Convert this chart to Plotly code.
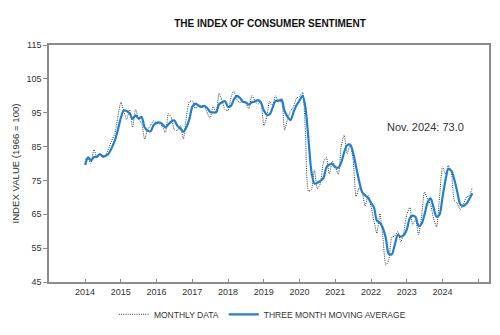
import pandas as pd
import plotly.graph_objects as go

months = pd.date_range("2014-01-01", "2024-11-01", freq="MS")

monthly = [
    81.2, 81.6, 80.0, 84.1, 81.9, 82.5, 81.8, 82.5, 84.6, 86.9, 88.8, 93.6,
    98.1, 95.4, 93.0, 95.9, 90.7, 96.1, 93.1, 91.9, 87.2, 90.0, 91.3, 92.6,
    92.0, 91.7, 91.0, 89.0, 94.7, 93.5, 90.0, 89.8, 91.2, 87.2, 93.8, 98.2,
    98.5, 96.3, 96.9, 97.0, 97.1, 95.0, 93.4, 96.8, 95.1, 100.7, 98.5, 95.9,
    95.7, 99.7, 101.4, 98.8, 98.0, 98.2, 97.9, 96.2, 100.1, 98.6, 97.5, 98.3,
    91.2, 93.8, 98.4, 97.2, 100.0, 98.2, 98.4, 89.8, 93.2, 95.5, 96.8, 99.3,
    99.8, 101.0, 89.1, 71.8, 72.3, 78.1, 72.5, 74.1, 80.4, 81.8, 76.9, 80.7,
    79.0, 76.8, 84.9, 88.3, 82.9, 85.5, 81.2, 70.3, 72.8, 71.7, 67.4, 70.6,
    67.2, 62.8, 59.4, 65.2, 58.4, 50.0, 51.5, 58.2, 58.6, 59.9, 56.8, 59.7,
    64.9, 67.0, 62.0, 63.5, 59.0, 64.2, 71.6, 69.5, 67.9, 63.8, 61.3, 69.7,
    79.0, 76.9, 79.4, 77.2, 69.1, 68.2, 66.4, 67.9, 70.1, 70.5, 73.0,
]

moving_avg = [
    79.6, 81.8, 80.9, 81.9, 82.0, 82.8, 82.1, 82.3, 83.0, 84.7, 86.8, 89.8,
    93.5, 95.7, 95.5, 94.8, 93.2, 94.2, 93.3, 93.7, 90.7, 89.7, 89.5, 91.3,
    92.0, 92.1, 91.6, 90.6, 91.6, 92.4, 92.7, 91.1, 90.3, 89.4, 90.7, 93.1,
    96.8, 97.7, 97.2, 96.7, 97.0, 96.4, 95.2, 95.1, 95.1, 97.5, 98.1, 98.4,
    96.7, 97.1, 98.9, 100.0, 99.4, 98.3, 98.0, 97.4, 98.1, 98.3, 98.7, 98.1,
    95.7, 94.4, 94.5, 96.5, 98.5, 98.5, 98.9, 95.5, 93.8, 92.8, 95.2, 97.2,
    98.6, 100.0, 96.6, 87.3, 77.7, 74.1, 74.3, 74.9, 75.7, 78.8, 79.7, 79.8,
    78.9, 78.8, 80.2, 83.3, 85.4, 85.6, 83.2, 79.0, 74.8, 71.6, 70.6, 69.9,
    68.4, 66.9, 63.1, 62.5, 61.0, 57.9, 53.3, 53.2, 56.1, 58.9, 58.4, 58.8,
    60.5, 63.9, 64.6, 64.2, 61.5, 62.2, 64.9, 68.4, 69.7, 67.1, 64.3, 64.9,
    70.0, 75.2, 78.4, 77.8, 75.2, 71.5, 67.9, 67.5, 68.1, 69.5, 71.2,
]

year_ticks = [f"{y}-01-01" for y in range(2014, 2026)]
year_labels = [str(y) for y in range(2014, 2025)] + [""]
y_ticks = [45, 55, 65, 75, 85, 95, 105, 115]

title_text = "THE INDEX OF CONSUMER SENTIMENT"
y_title = "INDEX VALUE (1966 = 100)"
note_text = "Nov. 2024: 73.0"

FONT = "Liberation Sans, Arial, sans-serif"

fig = go.Figure()
fig.add_trace(go.Scatter(
    x=months, y=monthly, mode="lines", name="MONTHLY DATA",
    line=dict(color="#3a3a3a", width=1, dash="1px,1.2px", shape="spline", smoothing=0.6),
))
fig.add_trace(go.Scatter(
    x=months, y=moving_avg, mode="lines", name="THREE MONTH MOVING AVERAGE",
    line=dict(color="#1f7fd2", width=2.2, shape="spline", smoothing=0.8),
))

fig.update_layout(
    width=500, height=335,
    margin=dict(l=49, r=11, t=45, b=53, autoexpand=False),
    paper_bgcolor="white", plot_bgcolor="white",
    font=dict(family=FONT, size=9, color="#333333"),
    title=dict(text="<b>" + title_text + "</b>", x=0.54, xanchor="center",
               y=1 - 23 / 335, yanchor="middle",
               font=dict(family=FONT, size=10, color="#111111")),
    showlegend=True,
    legend=dict(orientation="h", x=0.485, xanchor="center", y=-0.075, yanchor="top",
                font=dict(family=FONT, size=8.5, color="#333333"),
                itemwidth=30, tracegroupgap=0, bgcolor="rgba(0,0,0,0)"),
    annotations=[dict(
        text=note_text, x="2024-08-25", y=90.9, xref="x", yref="y",
        xanchor="right", yanchor="middle", showarrow=False,
        font=dict(family=FONT, size=11, color="#333333"),
    )],
)

fig.update_xaxes(
    type="date", range=["2012-12-28", "2025-04-20"],
    tickvals=year_ticks, ticktext=year_labels,
    showline=True, linecolor="#8c8c8c", linewidth=1.5, mirror=True,
    ticks="inside", ticklen=3, tickcolor="#8c8c8c",
    showgrid=False, zeroline=False,
    tickfont=dict(family=FONT, size=9, color="#333333"),
)
fig.update_yaxes(
    range=[45, 115], tickvals=y_ticks,
    showline=True, linecolor="#8c8c8c", linewidth=1.5, mirror=True,
    ticks="outside", ticklen=4, tickcolor="#8c8c8c",
    showgrid=False, zeroline=False,
    title=dict(text=y_title, font=dict(family=FONT, size=9.6, color="#333333"), standoff=5),
    tickfont=dict(family=FONT, size=9, color="#333333"),
)

fig.write_html("out.html")
